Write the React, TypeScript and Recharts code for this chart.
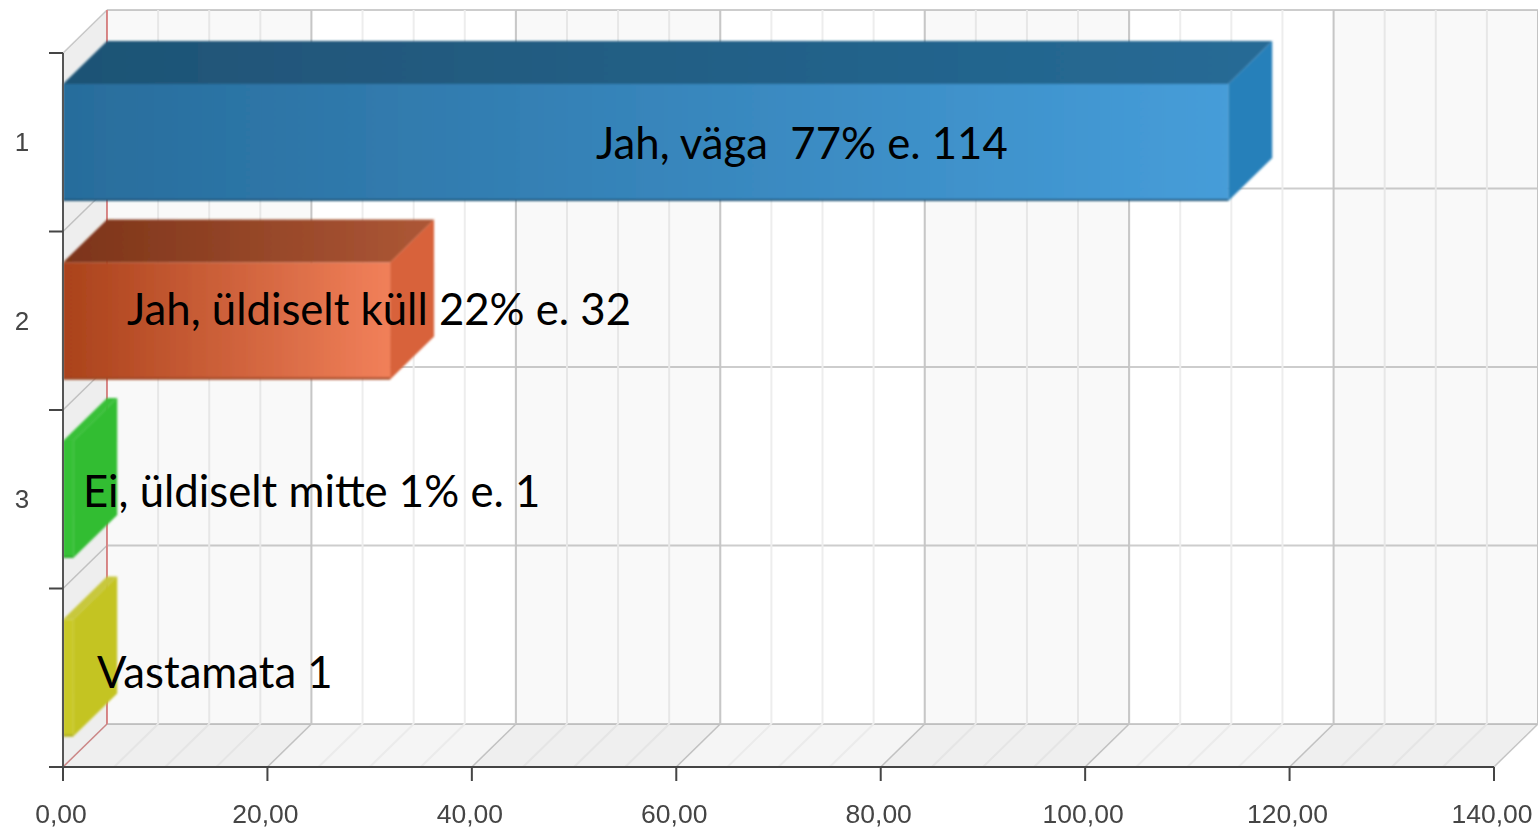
import { BarChart, Bar, XAxis, YAxis, CartesianGrid, ReferenceArea, LabelList } from 'recharts'

const categories = ['1', '2', '3', '']
const answers = [114, 32, 1, 1]
const barLabels = ['Jah, väga  77% e. 114', 'Jah, üldiselt küll 22% e. 32', 'Ei, üldiselt mitte 1% e. 1', 'Vastamata 1']
const xTicks = [0, 5, 10, 15, 20, 25, 30, 35, 40, 45, 50, 55, 60, 65, 70, 75, 80, 85, 90, 95, 100, 105, 110, 115, 120, 125, 130, 135, 140]
const shadedBands = [[0, 20], [40, 60], [80, 100], [120, 140]]

const chartData = categories.map((category, i) => ({ category, value: answers[i] }))

// 3d look: everything behind the bars is pushed back by this much
const DX = 44
const DY = 43
const BAND = 178.5
const labelX = [596, 127, 83, 97]
const labelY = [159, 325, 507, 688]

const faces = [
  { id: 'blue', from: '#286d9c', to: '#469dd9', topFrom: '#1f5375', topTo: '#266b96', side: '#2780ba', edge: '#1d5173' },
  { id: 'orange', from: '#aa421b', to: '#f1805a', topFrom: '#7c3419', topTo: '#ad5736', side: '#d8623a', edge: '#9a4424' },
  { id: 'green', from: '#35c135', to: '#35c135', topFrom: '#38c038', topTo: '#38c038', side: '#33bd33', edge: '#2ea82e' },
  { id: 'yellow', from: '#c9c928', to: '#c9c928', topFrom: '#c8c83c', topTo: '#c8c83c', side: '#c4c424', edge: '#acac20' },
]

function Bar3D(props: any) {
  const { x, y, width, height, index } = props
  const f = faces[index]
  const right = x + width
  return (
    <g filter="url(#soft)">
      <polygon
        points={`${x},${y} ${x + DX},${y - DY} ${right + DX},${y - DY} ${right},${y}`}
        fill={`url(#top-${f.id})`}
      />
      <polygon
        points={`${right},${y} ${right + DX},${y - DY} ${right + DX},${y + height - DY} ${right},${y + height}`}
        fill={f.side}
      />
      <rect x={x} y={y} width={width} height={height} fill={`url(#front-${f.id})`} />
      <line x1={x} x2={right} y1={y + height - 1} y2={y + height - 1} stroke={f.edge} strokeWidth={2} />
    </g>
  )
}

function BarText(props: any) {
  const { index } = props
  return (
    <text x={labelX[index]} y={labelY[index]} fontFamily="Lato" fontSize={43.7} fill="#000" xmlSpace="preserve">
      {barLabels[index]}
    </text>
  )
}

function XTick(props: any) {
  const { x, y, payload } = props
  const major = payload.value % 20 === 0
  return (
    <g filter="url(#softer)">
      <line x1={x} x2={x} y1={y} y2={y + (major ? 14 : 6)} stroke="#444" strokeWidth={2} />
      {major && (
        <text x={x - 2} y={y + 56} textAnchor="middle" fontFamily="Liberation Sans" fontSize={26.5} fill="#444">
          {payload.value.toFixed(2).replace('.', ',')}
        </text>
      )}
    </g>
  )
}

function YTick(props: any) {
  const { x, y, payload, index } = props
  const isLast = index === categories.length - 1
  return (
    <g filter="url(#softer)">
      <line x1={x - 14} x2={x} y1={y - BAND / 2} y2={y - BAND / 2} stroke="#444" strokeWidth={2} />
      {isLast && <line x1={x - 14} x2={x} y1={y + BAND / 2} y2={y + BAND / 2} stroke="#444" strokeWidth={2} />}
      <text x={22} y={y + 9} textAnchor="middle" fontFamily="Liberation Sans" fontSize={26} fill="#444">
        {payload.value}
      </text>
    </g>
  )
}

// the box behind the bars: left wall and floor, see-through so the grid shows
function RoomShape(props: any) {
  const { x, y, width, height } = props
  const b = y + height
  return (
    <g>
      <polygon points={`${x},${y} ${x + DX},${y - DY} ${x + DX},${b - DY} ${x},${b}`} fill="#000" fillOpacity={0.065} />
      <polygon
        points={`${x},${b} ${x + DX},${b - DY} ${x + width + DX},${b - DY} ${x + width},${b}`}
        fill="#000"
        fillOpacity={0.04}
      />
    </g>
  )
}

function BandShape(props: any) {
  const { x, y, width, height } = props
  const b = y + height
  return (
    <g>
      <rect x={x + DX} y={y - DY} width={width} height={height} fill="#000" fillOpacity={0.022} />
      <polygon
        points={`${x},${b} ${x + DX},${b - DY} ${x + width + DX},${b - DY} ${x + width},${b}`}
        fill="#000"
        fillOpacity={0.025}
      />
    </g>
  )
}

function WallVertical(props: any) {
  const { x1, y1, y2, index } = props
  const value = xTicks[index]
  const major = value % 20 === 0
  const color = major ? '#c8c8c8' : '#ededed'
  return (
    <g key={`v-${index}`}>
      <line x1={x1 + DX} x2={x1 + DX} y1={y1 - DY} y2={y2 - DY} stroke={value === 0 ? '#e28d8d' : color} strokeWidth={2} />
      <line
        x1={x1}
        x2={x1 + DX}
        y1={y2}
        y2={y2 - DY}
        stroke={value === 0 ? '#d99090' : major ? '#cccccc' : '#f5f5f5'}
        strokeWidth={value === 0 || major ? 1.5 : 2}
      />
    </g>
  )
}

// grid ticks sit mid band here, the walls need the band edges
function WallHorizontal(props: any) {
  const { x1, x2, y1, index } = props
  const isLast = index === categories.length - 1
  const edges = isLast ? [y1 - BAND / 2, y1 + BAND / 2] : [y1 - BAND / 2]
  return (
    <g key={`h-${index}`}>
      {edges.map((y, i) => (
        <g key={y}>
          <line x1={x1 + DX} x2={x2 + DX} y1={y - DY} y2={y - DY} stroke="#cdcdcd" strokeWidth={2} />
          {i === 0 && <line x1={x1} x2={x1 + DX} y1={y} y2={y - DY} stroke="#cfcfcf" strokeWidth={1.5} />}
        </g>
      ))}
    </g>
  )
}

export default function App() {
  return (
    <div style={{ position: 'absolute', left: 0, top: 0, width: 1538, height: 830, background: '#fff' }}>
      <BarChart
        width={1538}
        height={830}
        data={chartData}
        layout="vertical"
        margin={{ top: 53, right: 44, bottom: 0, left: 0 }}
        barCategoryGap={0}
      >
        <defs>
          <filter id="soft" x="-5%" y="-5%" width="110%" height="110%">
            <feGaussianBlur stdDeviation="1" />
          </filter>
          <filter id="softer" x="-20%" y="-20%" width="140%" height="140%">
            <feGaussianBlur stdDeviation="0.6" />
          </filter>
          {faces.map((f) => (
            <linearGradient key={`front-${f.id}`} id={`front-${f.id}`} x1="0" x2="1" y1="0" y2="0">
              <stop offset="0" stopColor={f.from} />
              <stop offset="1" stopColor={f.to} />
            </linearGradient>
          ))}
          {faces.map((f) => (
            <linearGradient key={`top-${f.id}`} id={`top-${f.id}`} x1="0" x2="1" y1="0" y2="0">
              <stop offset="0" stopColor={f.topFrom} />
              <stop offset="1" stopColor={f.topTo} />
            </linearGradient>
          ))}
        </defs>
        <CartesianGrid vertical={WallVertical as any} horizontal={WallHorizontal as any} syncWithTicks />
        <ReferenceArea x1={0} x2={140} shape={<RoomShape />} fill="none" stroke="none" />
        {shadedBands.map(([from, to]) => (
          <ReferenceArea key={from} x1={from} x2={to} shape={<BandShape />} fill="none" stroke="none" />
        ))}
        <XAxis
          type="number"
          domain={[0, 140]}
          ticks={xTicks}
          interval={0}
          height={63}
          tickSize={0}
          tickMargin={0}
          tick={<XTick />}
          tickLine={false}
          axisLine={{ stroke: '#444', strokeWidth: 2 }}
        />
        <YAxis
          type="category"
          dataKey="category"
          width={63}
          interval={0}
          tickSize={0}
          tickMargin={0}
          tick={<YTick />}
          tickLine={false}
          axisLine={{ stroke: '#555', strokeWidth: 2 }}
        />
        <Bar dataKey="value" barSize={117} shape={<Bar3D />} isAnimationActive={false}>
          <LabelList dataKey="value" content={<BarText />} />
        </Bar>
      </BarChart>
    </div>
  )
}
